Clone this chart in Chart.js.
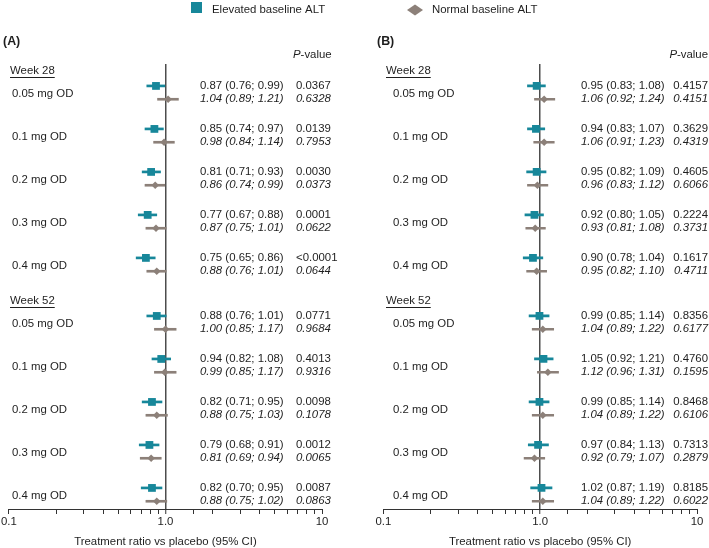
<!DOCTYPE html>
<html><head><meta charset="utf-8">
<script src="https://cdn.jsdelivr.net/npm/chart.js@4.4.1/dist/chart.umd.min.js"></script>
<style>
html,body{margin:0;padding:0;background:#fff;}
#wrap{position:relative;width:709px;height:548px;overflow:hidden;background:#fff}
canvas{position:absolute;left:0;top:0}
</style>
</head><body>
<div id="wrap"><canvas id="cA" width="709" height="548"></canvas><canvas id="cB" width="709" height="548"></canvas></div>
<script>
// ---------- DATA ----------
const groups = ['Week 28', 'Week 52'];
const doses = ['0.05 mg OD', '0.1 mg OD', '0.2 mg OD', '0.3 mg OD', '0.4 mg OD'];
const seriesNames = ['Elevated baseline ALT', 'Normal baseline ALT'];
const tickValues = [0.1, 1, 10];
const tickText = ['0.1', '1.0', '10'];

// Panel A (Week 28 rows then Week 52 rows)
const aElevEst = [0.87, 0.85, 0.81, 0.77, 0.75, 0.88, 0.94, 0.82, 0.79, 0.82];
const aElevLo  = [0.76, 0.74, 0.71, 0.67, 0.65, 0.76, 0.82, 0.71, 0.68, 0.70];
const aElevHi  = [0.99, 0.97, 0.93, 0.88, 0.86, 1.01, 1.08, 0.95, 0.91, 0.95];
const aElevP   = ['0.0367', '0.0139', '0.0030', '0.0001', '<0.0001', '0.0771', '0.4013', '0.0098', '0.0012', '0.0087'];
const aNormEst = [1.04, 0.98, 0.86, 0.87, 0.88, 1.00, 0.99, 0.88, 0.81, 0.88];
const aNormLo  = [0.89, 0.84, 0.74, 0.75, 0.76, 0.85, 0.85, 0.75, 0.69, 0.75];
const aNormHi  = [1.21, 1.14, 0.99, 1.01, 1.01, 1.17, 1.17, 1.03, 0.94, 1.02];
const aNormP   = ['0.6328', '0.7953', '0.0373', '0.0622', '0.0644', '0.9684', '0.9316', '0.1078', '0.0065', '0.0863'];

// Panel B
const bElevEst = [0.95, 0.94, 0.95, 0.92, 0.90, 0.99, 1.05, 0.99, 0.97, 1.02];
const bElevLo  = [0.83, 0.83, 0.82, 0.80, 0.78, 0.85, 0.92, 0.85, 0.84, 0.87];
const bElevHi  = [1.08, 1.07, 1.09, 1.05, 1.04, 1.14, 1.21, 1.14, 1.13, 1.19];
const bElevP   = ['0.4157', '0.3629', '0.4605', '0.2224', '0.1617', '0.8356', '0.4760', '0.8468', '0.7313', '0.8185'];
const bNormEst = [1.06, 1.06, 0.96, 0.93, 0.95, 1.04, 1.12, 1.04, 0.92, 1.04];
const bNormLo  = [0.92, 0.91, 0.83, 0.81, 0.82, 0.89, 0.96, 0.89, 0.79, 0.89];
const bNormHi  = [1.24, 1.23, 1.12, 1.08, 1.10, 1.22, 1.31, 1.22, 1.07, 1.22];
const bNormP   = ['0.4151', '0.4319', '0.6066', '0.3731', '0.4711', '0.6177', '0.1595', '0.6106', '0.2879', '0.6022'];

// ---------- STYLE / LAYOUT ----------
const TEAL = '#17879a';
const GREY = '#8c8079';
const TXT = '#1e1e1e';
const FONT = '"Liberation Sans", Arial, Helvetica, sans-serif';
const FS = 11.4;
const GROUP_STEP = 5.35;   // row units between group starts
const NORM_OFF = 0.31;     // offset of second series row
const HEADER_OFF = -0.34;  // group header position relative to first row

function rowPos(i) { return (i % doses.length) + Math.floor(i / doses.length) * GROUP_STEP; }

function buildDatasets(eEst, eLo, eHi, nEst, nLo, nHi) {
  const n = eEst.length;
  const idx = [...Array(n).keys()];
  return [
    { type: 'scatter', label: seriesNames[0], order: 0,
      data: idx.map(i => ({ x: eEst[i], y: rowPos(i) })),
      pointStyle: 'rect', pointRadius: 5.5, pointBackgroundColor: TEAL, pointBorderWidth: 0, pointBorderColor: TEAL },
    { type: 'scatter', label: seriesNames[1], order: 0,
      data: idx.map(i => ({ x: nEst[i], y: rowPos(i) + NORM_OFF })),
      pointStyle: 'rectRot', pointRadius: 3.8, pointBackgroundColor: GREY, pointBorderWidth: 0, pointBorderColor: GREY },
    { type: 'bar', label: seriesNames[0] + ' CI', order: 2, grouped: false,
      data: idx.map(i => ({ x: [eLo[i], eHi[i]], y: rowPos(i) })),
      backgroundColor: TEAL, barThickness: 2, maxBarThickness: 2, borderWidth: 0 },
    { type: 'bar', label: seriesNames[1] + ' CI', order: 2, grouped: false,
      data: idx.map(i => ({ x: [nLo[i], nHi[i]], y: rowPos(i) + NORM_OFF })),
      backgroundColor: GREY, barThickness: 2, maxBarThickness: 2, borderWidth: 0 }
  ];
}

function textPlugin(cfg, eEst, eLo, eHi, eP, nEst, nLo, nHi, nP, drawLegend) {
  return {
    id: 'forestText',
    afterDraw(chart) {
      const ctx = chart.ctx;
      const ys = chart.scales.y;
      ctx.save();
      ctx.fillStyle = TXT;
      ctx.textBaseline = 'middle';
      // panel letter
      ctx.font = 'bold ' + (FS + 1) + 'px ' + FONT;
      ctx.textAlign = 'left';
      ctx.fillText(cfg.letter, cfg.letterX, 42);
      // P-value header
      ctx.font = 'italic ' + FS + 'px ' + FONT;
      const w1 = ctx.measureText('P').width;
      ctx.font = FS + 'px ' + FONT;
      const w2 = ctx.measureText('-value').width;
      const px = cfg.pAlign === 'right' ? cfg.pX - w1 - w2 : cfg.pX;
      ctx.font = 'italic ' + FS + 'px ' + FONT;
      ctx.fillText('P', px, 55);
      ctx.font = FS + 'px ' + FONT;
      ctx.fillText('-value', px + w1, 55);
      // group headers
      groups.forEach((g, gi) => {
        const y = ys.getPixelForValue(gi * GROUP_STEP + HEADER_OFF);
        ctx.font = FS + 'px ' + FONT;
        ctx.textAlign = 'left';
        ctx.fillText(g, cfg.weekX, y);
        const w = ctx.measureText(g).width;
        ctx.fillRect(cfg.weekX, Math.round(y + 6), w, 1);
      });
      // rows
      const fmt = (e, l, h) => e.toFixed(2) + ' (' + l.toFixed(2) + '; ' + h.toFixed(2) + ')';
      for (let i = 0; i < eEst.length; i++) {
        const y1 = ys.getPixelForValue(rowPos(i));
        const y2 = ys.getPixelForValue(rowPos(i) + NORM_OFF);
        ctx.font = FS + 'px ' + FONT;
        ctx.textAlign = 'left';
        ctx.fillText(doses[i % doses.length], cfg.doseX, (y1 + y2) / 2 + 1);
        ctx.fillText(fmt(eEst[i], eLo[i], eHi[i]), cfg.ratioX, y1);
        ctx.textAlign = cfg.pAlign;
        ctx.fillText(eP[i], cfg.pvalX, y1);
        ctx.font = 'italic ' + FS + 'px ' + FONT;
        ctx.textAlign = 'left';
        ctx.fillText(fmt(nEst[i], nLo[i], nHi[i]), cfg.ratioX, y2);
        ctx.textAlign = cfg.pAlign;
        ctx.fillText(nP[i], cfg.pvalX, y2);
      }
      if (drawLegend) {
        ctx.fillStyle = TEAL;
        ctx.fillRect(191, 2, 11, 11);
        ctx.fillStyle = GREY;
        ctx.beginPath();
        ctx.moveTo(407, 10); ctx.lineTo(415, 4.5); ctx.lineTo(423, 10); ctx.lineTo(415, 15.5); ctx.closePath();
        ctx.fill();
        ctx.fillStyle = TXT;
        ctx.font = FS + 'px ' + FONT;
        ctx.textAlign = 'left';
        ctx.fillText(seriesNames[0], 212, 10);
        ctx.fillText(seriesNames[1], 432, 10);
      }
      ctx.restore();
    }
  };
}

function makeChart(canvasId, padLeft, padRight, dsArgs, cfg, drawLegend) {
  const [eEst, eLo, eHi, eP, nEst, nLo, nHi, nP] = dsArgs;
  return new Chart(document.getElementById(canvasId), {
    type: 'bar',
    data: { datasets: buildDatasets(eEst, eLo, eHi, nEst, nLo, nHi) },
    options: {
      indexAxis: 'y',
      responsive: false,
      animation: false,
      devicePixelRatio: 1,
      events: [],
      layout: { padding: { left: padLeft, right: padRight, top: 64, bottom: 0 } },
      plugins: { legend: { display: false }, tooltip: { enabled: false } },
      scales: {
        y: { type: 'linear', display: false, reverse: true, min: -0.51, max: 9.84, offset: false },
        x: {
          type: 'logarithmic', position: 'bottom', min: 0.1, max: 10, offset: false,
          border: { display: true, color: '#333', width: 1 },
          grid: {
            display: true, drawOnChartArea: true, drawTicks: true, tickLength: 5, offset: false,
            color: c => (c.tick && Math.abs(Math.log10(c.tick.value)) < 1e-6) ? '#4d4d4d' : 'rgba(0,0,0,0)',
            lineWidth: c => (c.tick && Math.abs(Math.log10(c.tick.value)) < 1e-6) ? 1.5 : 1,
            tickColor: '#333', tickWidth: 1
          },
          ticks: {
            autoSkip: false, maxRotation: 0, minRotation: 0, padding: 1, color: TXT,
            font: { family: FONT, size: FS },
            callback: v => {
              const k = tickValues.findIndex(t => Math.abs(Math.log10(t) - Math.log10(v)) < 1e-6);
              return k >= 0 ? tickText[k] : '';
            }
          },
          title: { display: true, text: 'Treatment ratio vs placebo (95% CI)', color: TXT,
                   font: { family: FONT, size: FS, lineHeight: 1 }, padding: { top: 0, bottom: 0 } },
          afterFit: s => { s.height = 39; }
        }
      }
    },
    plugins: [textPlugin(cfg, eEst, eLo, eHi, eP, nEst, nLo, nHi, nP, drawLegend)]
  });
}

makeChart('cA', 7.5, 709 - 322, [aElevEst, aElevLo, aElevHi, aElevP, aNormEst, aNormLo, aNormHi, aNormP],
  { letter: '(A)', letterX: 3, pX: 293, pAlign: 'left', weekX: 10, doseX: 12, ratioX: 200, pvalX: 296 }, true);
makeChart('cB', 383.3, 709 - 697, [bElevEst, bElevLo, bElevHi, bElevP, bNormEst, bNormLo, bNormHi, bNormP],
  { letter: '(B)', letterX: 377, pX: 708, pAlign: 'right', weekX: 386, doseX: 393, ratioX: 581, pvalX: 708 }, false);
</script>
</body></html>
